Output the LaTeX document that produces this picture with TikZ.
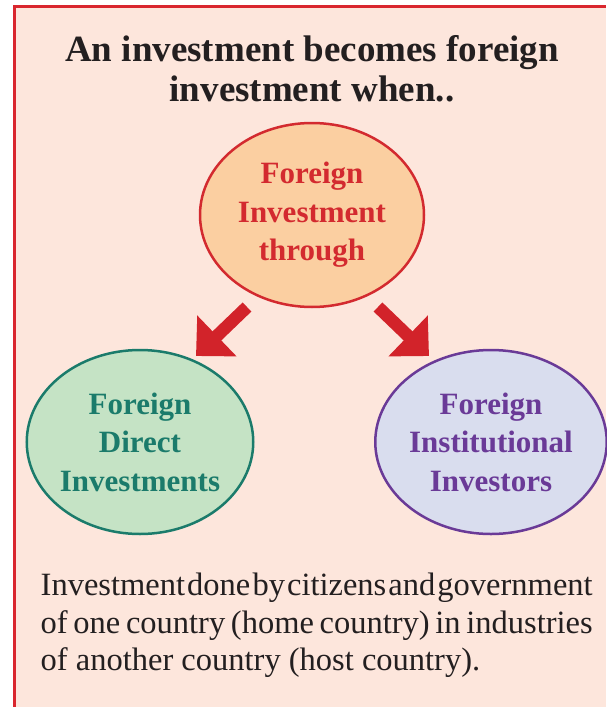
\documentclass[tikz,border=0pt]{standalone}
\usepackage{fontspec}
\setmainfont{Liberation Serif}
\usetikzlibrary{shapes.geometric,arrows.meta}
\definecolor{bgpink}{HTML}{FDE6DC}
\definecolor{borderred}{HTML}{D9262E}
\definecolor{topfill}{HTML}{FBCFA1}
\definecolor{topline}{HTML}{D32A2F}
\definecolor{greenfill}{HTML}{C5E3C5}
\definecolor{greenline}{HTML}{1B7B6B}
\definecolor{purplefill}{HTML}{D9DDEE}
\definecolor{purpleline}{HTML}{6A3A97}
\definecolor{arrowred}{HTML}{D2232A}
\definecolor{darktext}{HTML}{231F20}
\tikzset{
  bubble/.style={ellipse, minimum width=224pt, minimum height=184pt, inner sep=0pt,
    line width=2.5pt, align=center,
    font=\fontsize{31}{38.5}\selectfont\bfseries},
  fatarrow/.style={draw=arrowred, line width=12.6pt,
    -{Triangle[width=55pt,length=29pt]}},
  bodyline/.style={anchor=base west, inner sep=0pt, text=darktext,
    font=\fontsize{32.5}{37.5}\selectfont}
}
\begin{document}
\begin{tikzpicture}[x=1pt,y=-1pt]
\useasboundingbox (0,0) rectangle (606,707);
\fill[white] (0,0) rectangle (606,707);
\fill[bgpink] (14.5,6.2) rectangle (606,707);
\draw[borderred, line width=2.6pt] (14.3,707) -- (14.3,6.2) -- (606,6.2);

\node (title) [anchor=base, inner sep=0pt, align=center, text=darktext,
  font=\fontsize{37}{40}\selectfont\bfseries] at (312,101)
  {An investment becomes foreign\\investment when..};

\node (top) [bubble, draw=topline, fill=topfill, text=topline] at (312,215)
  {Foreign\\Investment\\through};
\node (fdi) [bubble, draw=greenline, fill=greenfill, text=greenline] at (140,442)
  {Foreign\\Direct\\Investments};
\node (fii) [bubble, draw=purpleline, fill=purplefill, text=purpleline] at (491,442)
  {Foreign\\Institutional\\Investors};

\coordinate (ltail) at (247,307);
\coordinate (ltip) at (196,356);
\coordinate (rtail) at (378,307);
\coordinate (rtip) at (429,356);
\draw[fatarrow] (ltail) -- (ltip);
\draw[fatarrow] (rtail) -- (rtip);

\node (l1) [bodyline] at (40.5,595)
  {\makebox[552pt][s]{\spaceskip=2pt plus 20pt minus 2pt Investment done by citizens and government}};
\node (l2) [bodyline] at (40.5,633)
  {\makebox[552pt][s]{\spaceskip=4pt plus 20pt minus 2pt of one country (home country) in industries}};
\node (l3) [bodyline] at (40.5,670)
  {of another country (host country).};
\end{tikzpicture}
\end{document}
